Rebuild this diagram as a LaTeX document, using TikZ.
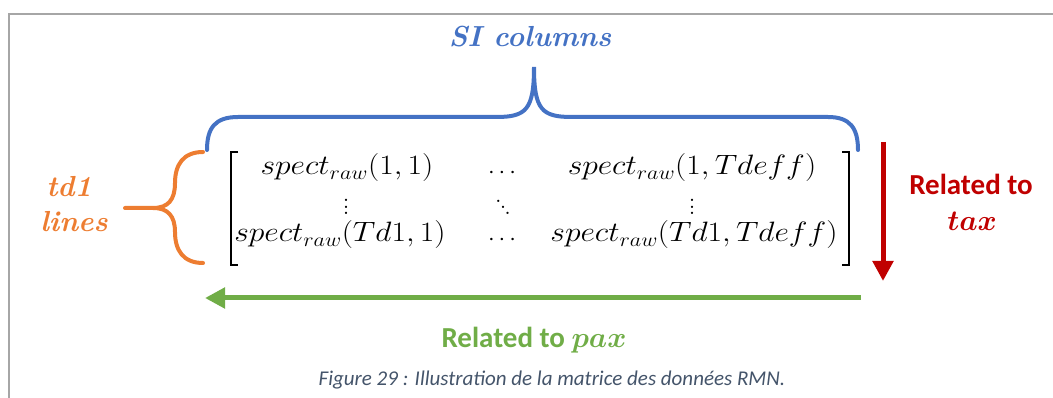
\RequirePackage{fix-cm}
\documentclass[tikz,border=0pt]{standalone}
\usepackage{fontspec}
\usepackage{amsmath}
\usepackage{graphicx}
\newfontfamily\calfont{Carlito}
\definecolor{sib}{HTML}{4472C4}
\definecolor{tdo}{HTML}{ED7D31}
\definecolor{rtr}{HTML}{C00000}
\definecolor{rtg}{HTML}{70AD47}
\definecolor{capc}{HTML}{44546A}
\definecolor{frm}{HTML}{A6A6A6}
\newcommand\myvd{\vbox{\baselineskip6.5pt\lineskiplimit-10pt\lineskip0pt\hbox{.}\hbox{.}\hbox{.}}}
\newcommand\mydd{\hbox{\raise12pt\hbox{.}\kern-2.3pt\raise6pt\hbox{.}\kern-2.3pt\hbox{.}}}
\newcommand\mtx[1]{\scalebox{1.13}[1]{$#1$}}
\tikzset{
  bigser/.style={font=\fontsize{29}{34}\selectfont\bfseries\itshape, anchor=base},
  lab/.style={font=\fontsize{29}{34}\selectfont\calfont\bfseries, anchor=base},
  ent/.style={font=\fontsize{28}{34}\selectfont, anchor=base, inner sep=0pt},
  dts/.style={font=\fontsize{28}{34}\selectfont, anchor=base, inner sep=0pt},
  hdts/.style={font=\fontsize{24}{28}\selectfont, anchor=base, inner sep=0pt},
  brace/.style={line width=4pt, line cap=round},
  brk/.style={line width=2pt},
  arr/.style={line width=5pt, -{Triangle[length=20pt,width=20pt]}},
}
\usetikzlibrary{arrows.meta}
\begin{document}
\begin{tikzpicture}[x=1pt,y=-1pt]
\useasboundingbox (0,0) rectangle (1053,398);
% frame
\draw[frm, line width=2pt] (9,398) -- (9,14) -- (1053,14);
% SI columns
\node[bigser, text=sib] (si) at (530,47) {SI columns};
\draw[brace, sib] (207,150) .. controls (207,128) and (215,117) .. (238,117) -- (496,117)
  .. controls (526,117) and (534,110) .. (534,67)
  .. controls (534,110) and (542,117) .. (572,117) -- (828,117)
  .. controls (850,117) and (858,128) .. (858,150);
% td1 lines
\node[bigser, text=tdo] (td) at (69,197) {td1};
\node[bigser, text=tdo] (li) at (74,232) {lines};
\draw[brace, tdo] (203,152) .. controls (183,152) and (175,165) .. (175,183)
  .. controls (175,200) and (168,208) .. (153,208) -- (125,208);
\draw[brace, tdo] (203,263) .. controls (183,263) and (175,250) .. (175,232)
  .. controls (175,216) and (168,208) .. (153,208);
% matrix brackets
\draw[brk] (238,152) -- (231,152) -- (231,265) -- (238,265);
\draw[brk] (842,152) -- (849,152) -- (849,265) -- (842,265);
% entries
\node[ent] (m11) at (347,175) {\mtx{spect_{raw}(1,1)}};
\node[hdts] (m12) at (504,179) {$\cdots$};
\node[ent] (m13) at (692,175) {\mtx{spect_{raw}(1,Tdeff)}};
\node[dts] (m21) at (346,215) {\myvd};
\node[dts] (m22) at (503,215) {\mydd};
\node[dts] (m23) at (692,215) {\myvd};
\node[ent] (m31) at (340,242) {\mtx{spect_{raw}(Td1,1)}};
\node[hdts] (m32) at (504,246) {$\cdots$};
\node[ent] (m33) at (694,242) {\mtx{spect_{raw}(Td1,Tdeff)}};
% red arrow
\coordinate (rt) at (883,142);
\coordinate (rb) at (883,281);
\draw[arr, rtr] (rt) -- (rb);
\node[lab, text=rtr] (rel1) at (971,195) {Related to};
\node[lab, text=rtr] (tax) at (972,231) {$\boldsymbol{tax}$};
% green arrow
\coordinate (gt) at (861,298);
\coordinate (gh) at (205,298);
\draw[arr, rtg] (gt) -- (gh);
\node[lab, text=rtg] (rel2) at (534,347) {Related to $\boldsymbol{pax}$};
% caption
\node[font=\fontsize{21}{25}\selectfont\calfont\itshape, text=capc, anchor=base] (cap) at (552,385) {Figure 29 : Illustration de la matrice des données RMN.};
\end{tikzpicture}
\end{document}
